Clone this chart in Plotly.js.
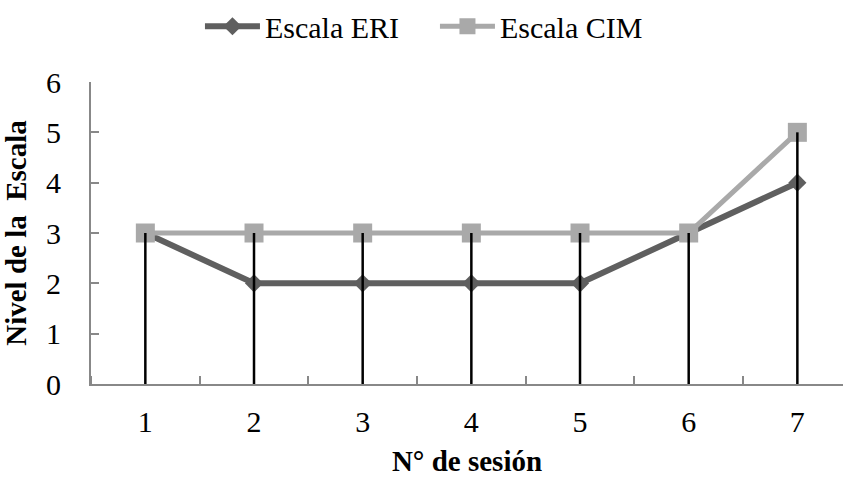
<!DOCTYPE html>
<html><head><meta charset="utf-8">
<script src="https://cdn.plot.ly/plotly-3.0.1.min.js"></script>
<style>html,body{margin:0;padding:0;background:#fff}#c{width:843px;height:477px}</style>
</head><body><div id="c"></div>
<script>
const sesiones = [1, 2, 3, 4, 5, 6, 7];
const escalaERI = [3, 2, 2, 2, 2, 3, 4];
const escalaCIM = [3, 3, 3, 3, 3, 3, 5];
const yTicks = [0, 1, 2, 3, 4, 5, 6];

const dropX = [], dropY = [];
sesiones.forEach((s, i) => {
  dropX.push(s, s, null);
  dropY.push(0, Math.max(escalaERI[i], escalaCIM[i]), null);
});

const font = "Liberation Serif, Times New Roman, serif";
const data = [
  {x: sesiones, y: escalaERI, name: 'Escala ERI', mode: 'lines+markers',
   line: {color: '#5f5f5f', width: 6}, marker: {symbol: 'diamond', size: 14, color: '#5f5f5f'}},
  {x: sesiones, y: escalaCIM, name: 'Escala CIM', mode: 'lines+markers',
   line: {color: '#a9a9a9', width: 5}, marker: {symbol: 'square', size: 19, color: '#a9a9a9'}},
  {x: dropX, y: dropY, mode: 'lines', showlegend: false, hoverinfo: 'skip',
   line: {color: '#000', width: 2.5}}
];
const layout = {
  width: 843, height: 477,
  margin: {l: 91, r: 0, t: 82, b: 93, autoexpand: false},
  paper_bgcolor: '#fff', plot_bgcolor: '#fff',
  font: {family: font, size: 30, color: '#000'},
  showlegend: true,
  legend: {orientation: 'h', xref: 'container', yref: 'container', x: 0.2372, xanchor: 'left', y: 0.945, yanchor: 'middle',
    font: {family: font, size: 30, color: '#000'}, itemwidth: 55, entrywidth: 165, tracegroupgap: 0, bgcolor: 'rgba(0,0,0,0)'},
  xaxis: {range: [0.5, 7.42], tickvals: sesiones, ticktext: sesiones.map(String), automargin: false,
    ticks: '', showgrid: false, zeroline: false, showline: true, linecolor: '#888888', linewidth: 2,
    tickfont: {family: font, size: 30}, ticklabelstandoff: 10,
    minor: {tickmode: 'linear', tick0: 0.5, dtick: 1, ticks: 'inside', ticklen: 8, tickwidth: 2, tickcolor: '#888888', showgrid: false},
    title: {text: '<b>N° de sesión</b>', font: {family: font, size: 29}, standoff: 16}},
  yaxis: {range: [0, 6], tickvals: yTicks, ticks: 'inside', ticklen: 8, tickwidth: 2, tickcolor: '#888888', automargin: false,
    showgrid: false, zeroline: false, showline: true, linecolor: '#888888', linewidth: 2,
    tickfont: {family: font, size: 30}, ticklabelstandoff: 22,
    title: {text: '<b>Nivel de la  Escala</b>', font: {family: font, size: 29}, standoff: 14}}
};
Plotly.newPlot('c', data, layout, {displayModeBar: false, staticPlot: true});
</script></body></html>
